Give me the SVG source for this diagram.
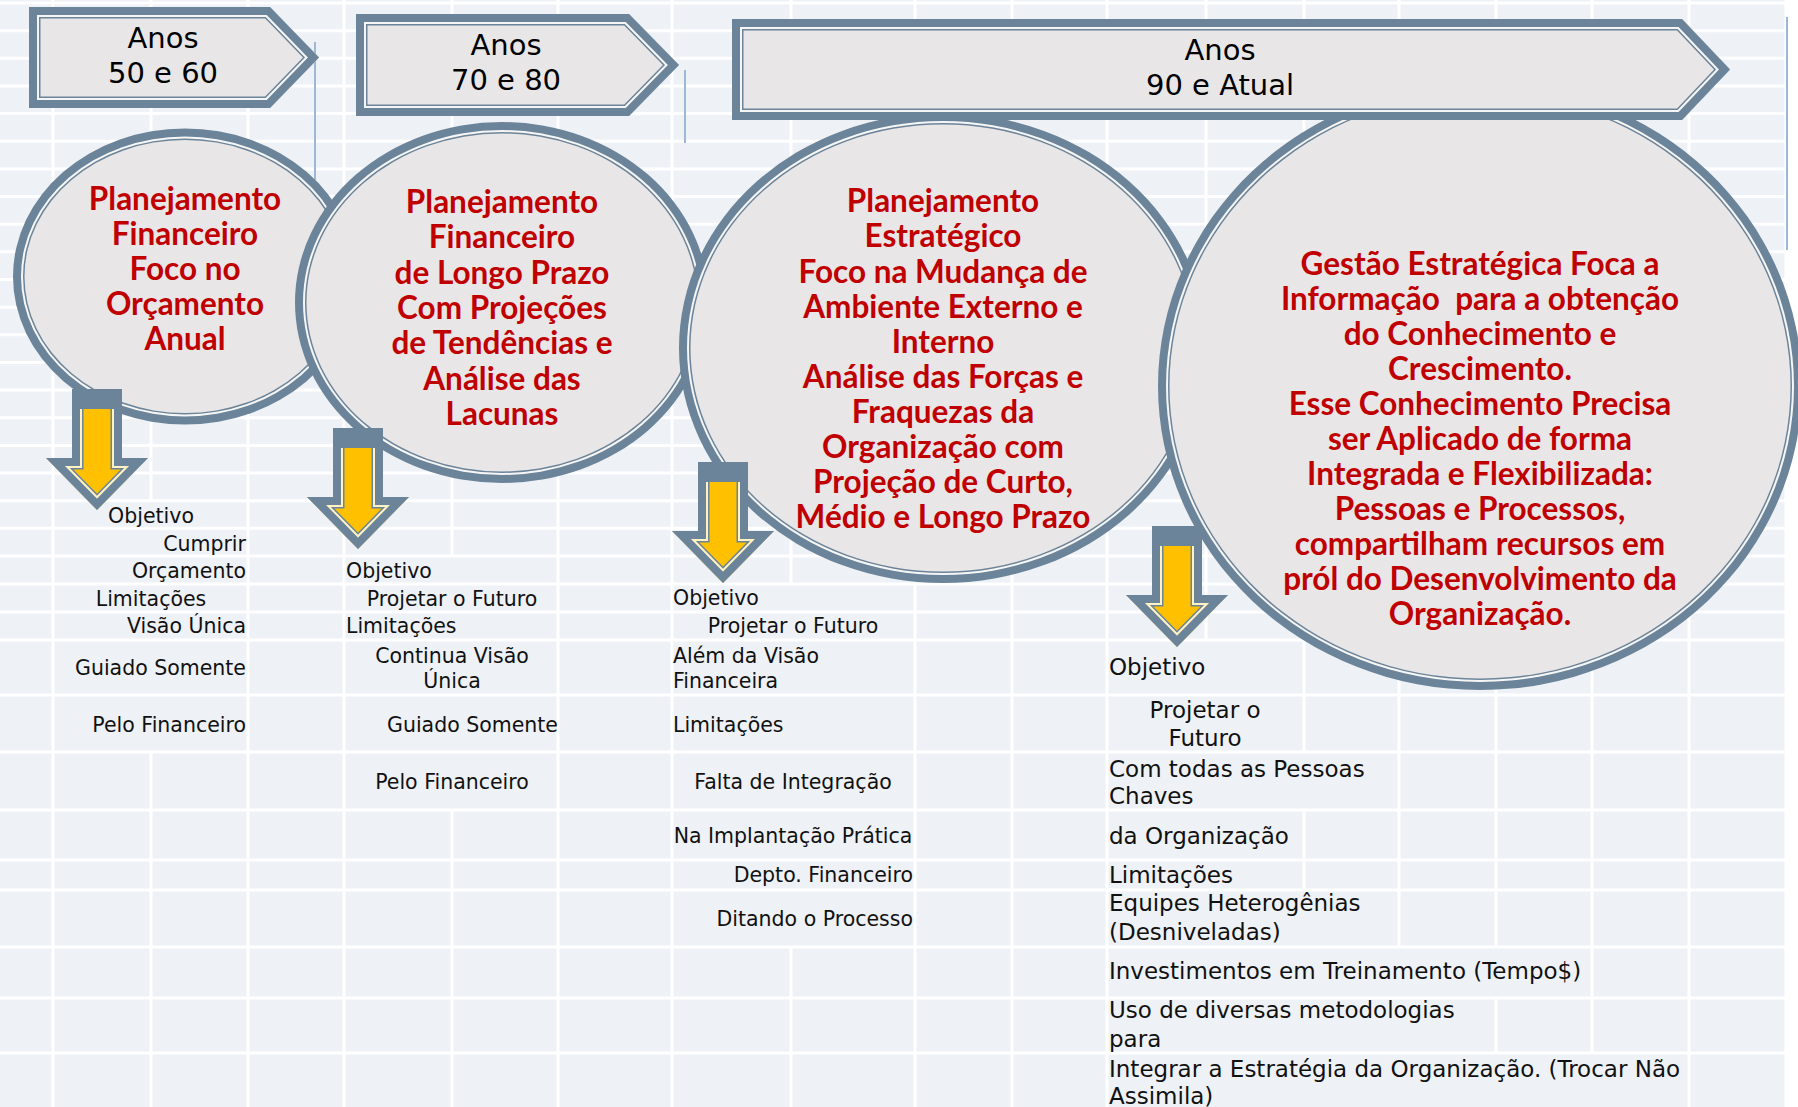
<svg xmlns="http://www.w3.org/2000/svg" xmlns:xlink="http://www.w3.org/1999/xlink" width="1798" height="1107" viewBox="0 0 1798 1107">
<style>
.bg{fill:#eef1f6}
.grid{fill:none;stroke:#ffffff;stroke-width:3}
.vl{stroke:#9db8d6;stroke-width:2}
.o{fill:#6b8499}
.w{fill:#f6f6f6}
.f{fill:#e9e6e7}
.s1{fill:none;stroke:#6b8499;stroke-width:23}
.s2{fill:none;stroke:#f6f6f6;stroke-width:20}
.s3{fill:none;stroke:#6b8499;stroke-width:16}
.y{fill:#ffc000}
.yw{fill:none;stroke:#fff3c4;stroke-width:20}
.t{font-family:"DejaVu Sans",Verdana,sans-serif;font-size:29px;fill:#000;text-anchor:middle}
.r{font-family:Lato,"Liberation Sans",sans-serif;font-weight:bold;font-size:31.5px;fill:#c00000;text-anchor:middle}
.s{font-family:"DejaVu Sans",Verdana,sans-serif;font-size:20.5px;fill:#111}
.b{font-family:"DejaVu Sans",Verdana,sans-serif;font-size:23px;fill:#111}
.m{text-anchor:middle}
.e{text-anchor:end}
</style>
<defs>
<path id="pA1" d="M29,7 H270 L319,57.5 L270,108 H29 Z"/>
<path id="pA2" d="M356,14 H629 L679,65 L629,116 H356 Z"/>
<path id="pA3" d="M732,19 H1682 L1730,69.5 L1682,120 H732 Z"/>
<path id="pD1" d="M72,389 H122 V458 H148 L97,510 L46,458 H72 Z"/>
<path id="pD2" d="M333,428 H383 V497 H409 L358,549 L307,497 H333 Z"/>
<path id="pD3" d="M698,462 H748 V531 H774 L723,583 L672,531 H698 Z"/>
<path id="pD4" d="M1152,526 H1202 V595 H1228 L1177,647 L1126,595 H1152 Z"/>
<clipPath id="cA1"><use href="#pA1"/></clipPath>
<clipPath id="cA2"><use href="#pA2"/></clipPath>
<clipPath id="cA3"><use href="#pA3"/></clipPath>
<clipPath id="cD1"><use href="#pD1"/></clipPath>
<clipPath id="cD2"><use href="#pD2"/></clipPath>
<clipPath id="cD3"><use href="#pD3"/></clipPath>
<clipPath id="cD4"><use href="#pD4"/></clipPath>
</defs>

<rect x="0" y="0" width="1798" height="1107" fill="#ffffff"/>
<rect class="bg" x="0" y="0" width="1787" height="1107"/>

<g id="grid">
<path class="grid" d="M0,3 H1787 M0,30.65 H1787 M0,58.3 H1787 M0,85.95 H1787 M0,113.6 H1787 M0,141.25 H1787 M0,168.9 H1787 M0,196.55 H1787 M0,224.2 H1787 M0,251.85 H1787 M0,279.5 H1787 M0,307.15 H1787 M0,334.8 H1787 M0,362.45 H1787 M0,390.1 H1787 M0,417.75 H1787 M0,445.4 H1787 M0,473.05 H1787 M0,500.7 H1787 M0,528.35 H1787 M0,556 H1787 M0,584 H1787 M0,612 H1787 M0,640 H1787 M0,695 H1787 M0,752 H1787 M0,810 H1787 M0,860 H1787 M0,890 H1787 M0,947 H1787 M0,998 H1787 M0,1053 H1787"/>
<path class="grid" d="M53,0 V1107 M151,0 V501 M151,752 V1107 M248,0 V1107 M344,0 V1107 M452,0 V556 M452,810 V1107 M558,0 V1107 M672,0 V1107 M791,0 V584 M791,947 V1107 M915,0 V1107 M1012,0 V1107 M1107,0 V1107 M1206,0 V640 M1304,0 V752 M1304,810 V890 M1399,0 V947 M1496,0 V947 M1496,998 V1053 M1592,0 V1053 M1689,0 V1107 M1786,0 V1107"/>
<path class="vl" d="M315,42 V180 M685,70 V143 M1787,17 V250"/>
</g>

<g id="circle1">
<ellipse class="o" cx="185" cy="276.5" rx="172" ry="148"/>
<ellipse class="w" cx="185" cy="276.5" rx="164" ry="140"/>
<ellipse class="o" cx="185" cy="276.5" rx="162" ry="138"/>
<ellipse class="f" cx="185" cy="276.5" rx="160.5" ry="136.5"/>
<text class="r"><tspan x="185" y="210">Planejamento</tspan><tspan x="185" y="245">Financeiro</tspan><tspan x="185" y="280">Foco no</tspan><tspan x="185" y="315">Orçamento</tspan><tspan x="185" y="350">Anual</tspan></text>
</g>

<g id="circle2">
<ellipse class="o" cx="502" cy="302.5" rx="207" ry="180.5"/>
<ellipse class="w" cx="502" cy="302.5" rx="199" ry="172.5"/>
<ellipse class="o" cx="502" cy="302.5" rx="197" ry="170.5"/>
<ellipse class="f" cx="502" cy="302.5" rx="195.5" ry="169"/>
<text class="r"><tspan x="502" y="213">Planejamento</tspan><tspan x="502" y="248">Financeiro</tspan><tspan x="502" y="284">de Longo Prazo</tspan><tspan x="502" y="319">Com Projeções</tspan><tspan x="502" y="354">de Tendências e</tspan><tspan x="502" y="390">Análise das</tspan><tspan x="502" y="425">Lacunas</tspan></text>
</g>

<g id="circle3">
<ellipse class="o" cx="943" cy="348" rx="264" ry="235"/>
<ellipse class="w" cx="943" cy="348" rx="256" ry="227"/>
<ellipse class="o" cx="943" cy="348" rx="254" ry="225"/>
<ellipse class="f" cx="943" cy="348" rx="252.5" ry="223.5"/>
<text class="r"><tspan x="943" y="212">Planejamento</tspan><tspan x="943" y="247">Estratégico</tspan><tspan x="943" y="283">Foco na Mudança de</tspan><tspan x="943" y="318">Ambiente Externo e</tspan><tspan x="943" y="353">Interno</tspan><tspan x="943" y="388">Análise das Forças e</tspan><tspan x="943" y="423">Fraquezas da</tspan><tspan x="943" y="458">Organização com</tspan><tspan x="943" y="493">Projeção de Curto,</tspan><tspan x="943" y="528">Médio e Longo Prazo</tspan></text>
</g>

<g id="circle4">
<ellipse class="o" cx="1480" cy="386" rx="322" ry="304"/>
<ellipse class="w" cx="1480" cy="386" rx="314" ry="296"/>
<ellipse class="o" cx="1480" cy="386" rx="312" ry="294"/>
<ellipse class="f" cx="1480" cy="386" rx="310.5" ry="292.5"/>
<text class="r" xml:space="preserve"><tspan x="1480" y="275">Gestão Estratégica Foca a</tspan><tspan x="1480" y="310">Informação  para a obtenção</tspan><tspan x="1480" y="345">do Conhecimento e</tspan><tspan x="1480" y="380">Crescimento.</tspan><tspan x="1480" y="415">Esse Conhecimento Precisa</tspan><tspan x="1480" y="450">ser Aplicado de forma</tspan><tspan x="1480" y="485">Integrada e Flexibilizada:</tspan><tspan x="1480" y="520">Pessoas e Processos,</tspan><tspan x="1480" y="555">compartilham recursos em</tspan><tspan x="1480" y="590">pról do Desenvolvimento da</tspan><tspan x="1480" y="625">Organização.</tspan></text>
</g>

<g id="title1">
<use href="#pA1" class="f"/>
<g clip-path="url(#cA1)"><use href="#pA1" class="s1"/><use href="#pA1" class="s2"/><use href="#pA1" class="s3"/></g>
<text class="t"><tspan x="163" y="48">Anos</tspan><tspan x="163" y="83">50 e 60</tspan></text>
</g>

<g id="title2">
<use href="#pA2" class="f"/>
<g clip-path="url(#cA2)"><use href="#pA2" class="s1"/><use href="#pA2" class="s2"/><use href="#pA2" class="s3"/></g>
<text class="t"><tspan x="506" y="55">Anos</tspan><tspan x="506" y="90">70 e 80</tspan></text>
</g>

<g id="title3">
<use href="#pA3" class="f"/>
<g clip-path="url(#cA3)"><use href="#pA3" class="s1"/><use href="#pA3" class="s2"/><use href="#pA3" class="s3"/></g>
<text class="t"><tspan x="1220" y="60">Anos</tspan><tspan x="1220" y="95">90 e Atual</tspan></text>
</g>

<g id="connectors">
<g id="arrow1">
<use href="#pD1" class="y"/>
<g clip-path="url(#cD1)"><use href="#pD1" class="s1"/><use href="#pD1" class="yw"/><use href="#pD1" class="s3"/></g>
<rect class="o" x="72" y="389" width="50" height="20"/>
</g>
<g id="arrow2">
<use href="#pD2" class="y"/>
<g clip-path="url(#cD2)"><use href="#pD2" class="s1"/><use href="#pD2" class="yw"/><use href="#pD2" class="s3"/></g>
<rect class="o" x="333" y="428" width="50" height="20"/>
</g>
<g id="arrow3">
<use href="#pD3" class="y"/>
<g clip-path="url(#cD3)"><use href="#pD3" class="s1"/><use href="#pD3" class="yw"/><use href="#pD3" class="s3"/></g>
<rect class="o" x="698" y="462" width="50" height="20"/>
</g>
<g id="arrow4">
<use href="#pD4" class="y"/>
<g clip-path="url(#cD4)"><use href="#pD4" class="s1"/><use href="#pD4" class="yw"/><use href="#pD4" class="s3"/></g>
<rect class="o" x="1152" y="526" width="50" height="20"/>
</g>
</g>

<g id="list1" class="s">
<text class="m" x="151" y="523">Objetivo</text>
<text class="e" x="246" y="551">Cumprir</text>
<text class="e" x="246" y="578">Orçamento</text>
<text class="m" x="151" y="606">Limitações</text>
<text class="e" x="246" y="633">Visão Única</text>
<text class="e" x="246" y="675">Guiado Somente</text>
<text class="e" x="246" y="732">Pelo Financeiro</text>
</g>

<g id="list2" class="s">
<text x="346" y="578">Objetivo</text>
<text class="m" x="452" y="606">Projetar o Futuro</text>
<text x="346" y="633">Limitações</text>
<text class="m" x="452" y="663">Continua Visão</text>
<text class="m" x="452" y="688">Única</text>
<text class="e" x="558" y="732">Guiado Somente</text>
<text class="m" x="452" y="789">Pelo Financeiro</text>
</g>

<g id="list3" class="s">
<text x="673" y="605">Objetivo</text>
<text class="m" x="793" y="633">Projetar o Futuro</text>
<text x="673" y="663">Além da Visão</text>
<text x="673" y="688">Financeira</text>
<text x="673" y="732">Limitações</text>
<text class="m" x="793" y="789">Falta de Integração</text>
<text class="m" x="793" y="843">Na Implantação Prática</text>
<text class="e" x="913" y="882">Depto. Financeiro</text>
<text class="e" x="913" y="926">Ditando o Processo</text>
</g>

<g id="list4" class="b">
<text x="1109" y="675">Objetivo</text>
<text class="m" x="1205" y="718">Projetar o</text>
<text class="m" x="1205" y="746">Futuro</text>
<text x="1109" y="777">Com todas as Pessoas</text>
<text x="1109" y="804">Chaves</text>
<text x="1109" y="844">da Organização</text>
<text x="1109" y="883">Limitações</text>
<text x="1109" y="911">Equipes Heterogênias</text>
<text x="1109" y="940">(Desniveladas)</text>
<text x="1109" y="979">Investimentos em Treinamento (Tempo$)</text>
<text x="1109" y="1018">Uso de diversas metodologias</text>
<text x="1109" y="1047">para</text>
<text x="1109" y="1077">Integrar a Estratégia da Organização. (Trocar Não</text>
<text x="1109" y="1104">Assimila)</text>
</g>
</svg>
